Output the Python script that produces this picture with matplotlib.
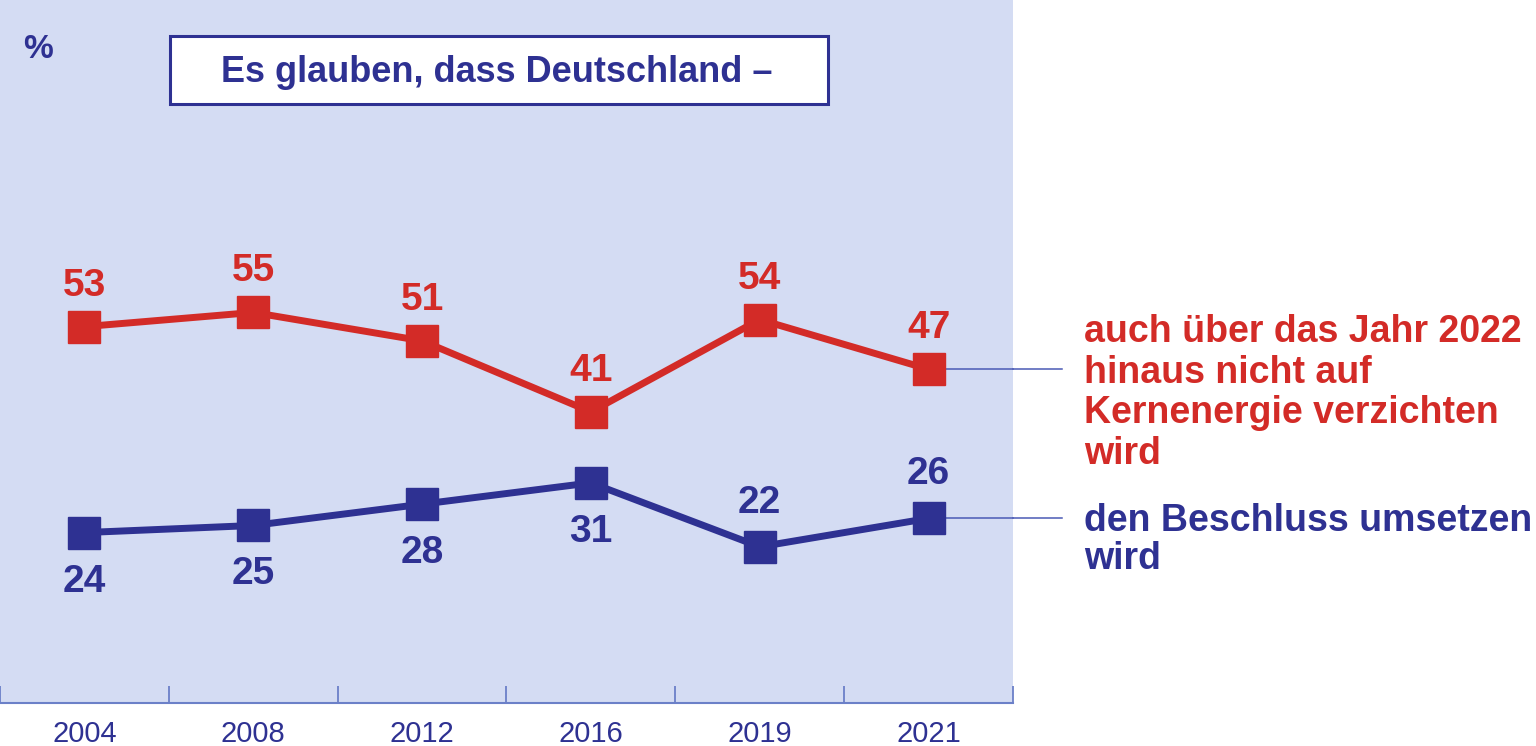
import matplotlib
matplotlib.use("Agg")
import matplotlib.pyplot as plt
from matplotlib.patches import Rectangle

years = ["2004", "2008", "2012", "2016", "2019", "2021"]
nicht_verzichten = [53, 55, 51, 41, 54, 47]
umsetzen = [24, 25, 28, 31, 22, 26]
umsetzen_label_pos = ["below", "below", "below", "below", "above", "above"]

title = "Es glauben, dass Deutschland \u2013"
label_red = "auch über das Jahr 2022\nhinaus nicht auf\nKernenergie verzichten\nwird"
label_blue = "den Beschluss umsetzen\nwird"

RED = "#d32b27"
NAVY = "#2e3192"
PANEL = "#d4dcf3"
AXBLUE = "#6b80c8"

plt.rcParams["font.family"] = ["Liberation Sans", "DejaVu Sans"]

W, H = 1536, 746
fig = plt.figure(figsize=(W / 100, H / 100), dpi=100)
fig.patch.set_facecolor("white")

def fx(px):
    return px / W

def fy(py):
    return 1 - py / H

ax = fig.add_axes([0, fy(703), fx(1013), 1 - fy(703)])
ax.set_facecolor(PANEL)
x = list(range(len(years)))
ax.set_xlim(-0.5, len(years) - 0.5)
ax.set_ylim(0, 99)

ax.plot(x, nicht_verzichten, color=RED, lw=5, marker="s", ms=23, zorder=3, solid_joinstyle="miter")
ax.plot(x, umsetzen, color=NAVY, lw=5, marker="s", ms=23, zorder=3, solid_joinstyle="miter")

for xi, v in zip(x, nicht_verzichten):
    ax.annotate(str(v), (xi, v), xytext=(0, 41), textcoords="offset pixels",
                ha="center", va="center", color=RED, fontsize=28, fontweight="bold")
for xi, v, pos in zip(x, umsetzen, umsetzen_label_pos):
    dy = -49 if pos == "below" else 44
    ax.annotate(str(v), (xi, v), xytext=(0, dy), textcoords="offset pixels",
                ha="center", va="center", color=NAVY, fontsize=28, fontweight="bold")

for s in ["top", "left", "right"]:
    ax.spines[s].set_visible(False)
ax.spines["bottom"].set_color(AXBLUE)
ax.spines["bottom"].set_linewidth(1.5)
ax.set_yticks([])
ax.set_xticks(x)
ax.set_xticklabels(years, fontsize=21, color=NAVY)
ax.tick_params(axis="x", which="major", length=0, pad=12)
ax.set_xticks([i - 0.5 for i in range(len(years) + 1)], minor=True)
ax.tick_params(axis="x", which="minor", length=12, width=1.3, color=AXBLUE, direction="in")

# percent sign
fig.text(fx(38), fy(50), "%", color=NAVY, fontsize=24, fontweight="bold", ha="center", va="center")

# title box
fig.patches.append(Rectangle((fx(170), fy(104)), fx(828) - fx(170), fy(36) - fy(104),
                             transform=fig.transFigure, facecolor="white", edgecolor=NAVY,
                             lw=2.2, zorder=5))
fig.text(fx(497), fy(72), title, color=NAVY, fontsize=26, fontweight="bold",
         ha="center", va="center", zorder=6)

# connector lines
last = len(years) - 1
for v in [nicht_verzichten[last], umsetzen[last]]:
    ax.plot([last, last + 0.5], [v, v], color="#4a5ab5", lw=1.1, zorder=2, clip_on=False)
    line_y = ax.transData.transform((last, v))[1] / H
    fig.add_artist(plt.Line2D([fx(1013), fx(1062)], [line_y, line_y], color="#4a5ab5", lw=1.1))

fig.text(fx(1084), fy(393), label_red, color=RED, fontsize=27, fontweight="bold",
         ha="left", va="center", linespacing=1.17)
fig.text(fx(1084), fy(540), label_blue, color=NAVY, fontsize=27, fontweight="bold",
         ha="left", va="center", linespacing=1.1)

fig.savefig("out.png", dpi=100, facecolor="white")
